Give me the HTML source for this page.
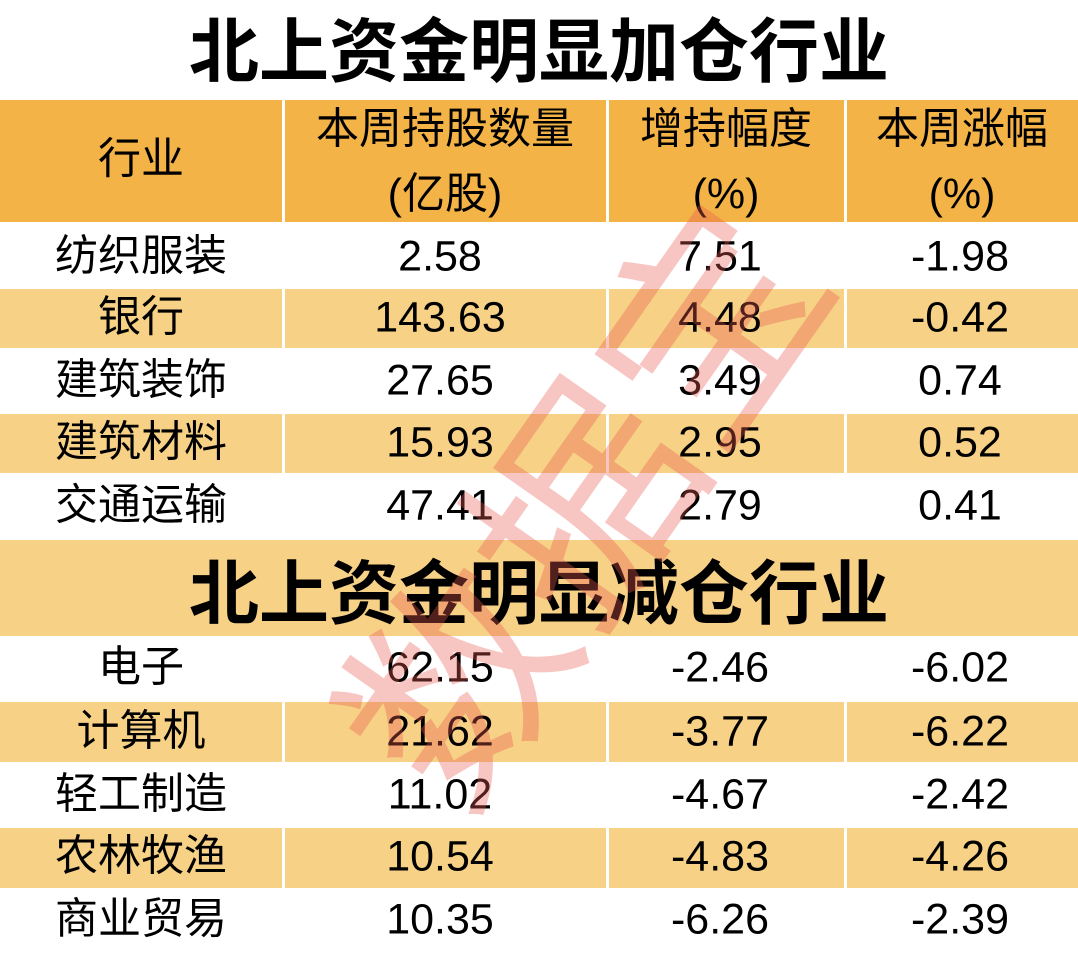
<!DOCTYPE html>
<html><head><meta charset="utf-8"><style>
body{margin:0;width:1078px;height:954px;background:#fff;position:relative;overflow:hidden;font-family:"Liberation Sans","Noto Sans CJK SC",sans-serif;color:#000}
.b{position:absolute}
.t{position:absolute;transform:translate(-50%,-50%);white-space:nowrap;font-size:43px;line-height:1}
.h{font-size:43px}
.title{font-weight:bold;font-size:70px}
.wm{position:absolute;left:572px;top:495px;transform:translate(-50%,-50%) rotate(-55deg);font-size:220px;color:rgba(232,90,80,0.35);font-family:"Noto Sans CJK SC",sans-serif;font-weight:400;white-space:nowrap;letter-spacing:0px}
</style></head><body>
<div class="b" style="left:0;top:100px;width:282px;height:122px;background:#f3b346"></div>
<div class="b" style="left:285px;top:100px;width:321px;height:122px;background:#f3b346"></div>
<div class="b" style="left:609px;top:100px;width:235px;height:122px;background:#f3b346"></div>
<div class="b" style="left:847px;top:100px;width:231px;height:122px;background:#f3b346"></div>

<div class="b" style="left:0;top:289px;width:282px;height:59px;background:#f7d186"></div>
<div class="b" style="left:285px;top:289px;width:321px;height:59px;background:#f7d186"></div>
<div class="b" style="left:609px;top:289px;width:235px;height:59px;background:#f7d186"></div>
<div class="b" style="left:847px;top:289px;width:231px;height:59px;background:#f7d186"></div>

<div class="b" style="left:0;top:414px;width:282px;height:59px;background:#f7d186"></div>
<div class="b" style="left:285px;top:414px;width:321px;height:59px;background:#f7d186"></div>
<div class="b" style="left:609px;top:414px;width:235px;height:59px;background:#f7d186"></div>
<div class="b" style="left:847px;top:414px;width:231px;height:59px;background:#f7d186"></div>

<div class="b" style="left:0;top:540px;width:1078px;height:96px;background:#f7d186"></div>

<div class="b" style="left:0;top:702px;width:282px;height:60px;background:#f7d186"></div>
<div class="b" style="left:285px;top:702px;width:321px;height:60px;background:#f7d186"></div>
<div class="b" style="left:609px;top:702px;width:235px;height:60px;background:#f7d186"></div>
<div class="b" style="left:847px;top:702px;width:231px;height:60px;background:#f7d186"></div>

<div class="b" style="left:0;top:828px;width:282px;height:60px;background:#f7d186"></div>
<div class="b" style="left:285px;top:828px;width:321px;height:60px;background:#f7d186"></div>
<div class="b" style="left:609px;top:828px;width:235px;height:60px;background:#f7d186"></div>
<div class="b" style="left:847px;top:828px;width:231px;height:60px;background:#f7d186"></div>

<div class="t title" style="left:539px;top:52px">北上资金明显加仓行业</div>
<div class="t title" style="left:539px;top:594px">北上资金明显减仓行业</div>

<div class="t h" style="left:141px;top:160px">行业</div>
<div class="t h" style="left:445px;top:130px">本周持股数量</div>
<div class="t h" style="left:445px;top:195px">(亿股)</div>
<div class="t h" style="left:726px;top:130px">增持幅度</div>
<div class="t h" style="left:726px;top:195px">(%)</div>
<div class="t h" style="left:962px;top:130px">本周涨幅</div>
<div class="t h" style="left:962px;top:195px">(%)</div>

<div class="t" style="left:141px;top:257px">纺织服装</div><div class="t" style="left:440px;top:257px">2.58</div><div class="t" style="left:720px;top:257px">7.51</div><div class="t" style="left:960px;top:257px">-1.98</div>
<div class="t" style="left:141px;top:318px">银行</div><div class="t" style="left:440px;top:318px">143.63</div><div class="t" style="left:720px;top:318px">4.48</div><div class="t" style="left:960px;top:318px">-0.42</div>
<div class="t" style="left:141px;top:381px">建筑装饰</div><div class="t" style="left:440px;top:381px">27.65</div><div class="t" style="left:720px;top:381px">3.49</div><div class="t" style="left:960px;top:381px">0.74</div>
<div class="t" style="left:141px;top:443px">建筑材料</div><div class="t" style="left:440px;top:443px">15.93</div><div class="t" style="left:720px;top:443px">2.95</div><div class="t" style="left:960px;top:443px">0.52</div>
<div class="t" style="left:141px;top:506px">交通运输</div><div class="t" style="left:440px;top:506px">47.41</div><div class="t" style="left:720px;top:506px">2.79</div><div class="t" style="left:960px;top:506px">0.41</div>

<div class="t" style="left:141px;top:668px">电子</div><div class="t" style="left:440px;top:668px">62.15</div><div class="t" style="left:720px;top:668px">-2.46</div><div class="t" style="left:960px;top:668px">-6.02</div>
<div class="t" style="left:141px;top:732px">计算机</div><div class="t" style="left:440px;top:732px">21.62</div><div class="t" style="left:720px;top:732px">-3.77</div><div class="t" style="left:960px;top:732px">-6.22</div>
<div class="t" style="left:141px;top:795px">轻工制造</div><div class="t" style="left:440px;top:795px">11.02</div><div class="t" style="left:720px;top:795px">-4.67</div><div class="t" style="left:960px;top:795px">-2.42</div>
<div class="t" style="left:141px;top:857px">农林牧渔</div><div class="t" style="left:440px;top:857px">10.54</div><div class="t" style="left:720px;top:857px">-4.83</div><div class="t" style="left:960px;top:857px">-4.26</div>
<div class="t" style="left:141px;top:920px">商业贸易</div><div class="t" style="left:440px;top:920px">10.35</div><div class="t" style="left:720px;top:920px">-6.26</div><div class="t" style="left:960px;top:920px">-2.39</div>

<div class="wm">数据宝</div>
</body></html>
